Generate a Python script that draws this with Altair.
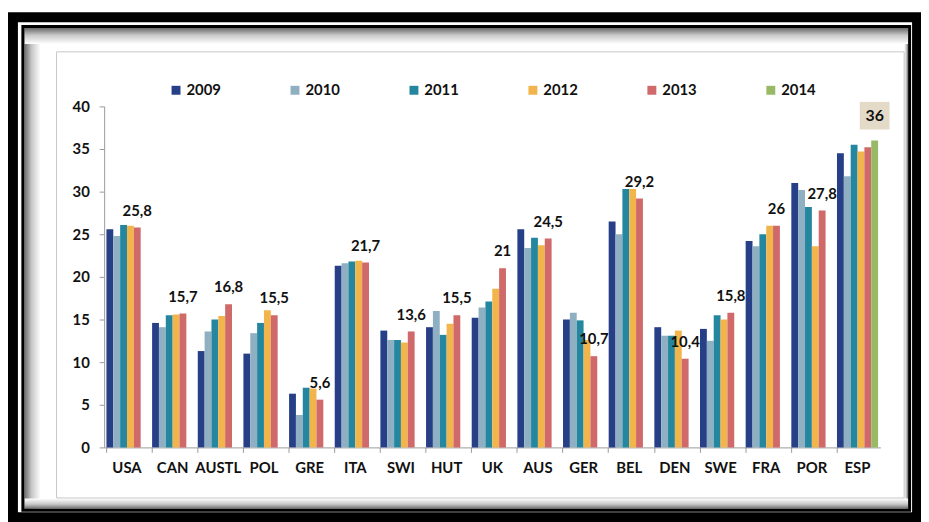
import altair as alt
import pandas as pd

categories = ["USA", "CAN", "AUSTL", "POL", "GRE", "ITA", "SWI", "HUT", "UK",
              "AUS", "GER", "BEL", "DEN", "SWE", "FRA", "POR", "ESP"]
years = ["2009", "2010", "2011", "2012", "2013", "2014"]

v2009 = [25.6, 14.6, 11.3, 11.0, 6.3, 21.3, 13.7, 14.1, 15.2, 25.6, 15.0, 26.5, 14.1, 13.9, 24.2, 31.0, 34.5]
v2010 = [24.8, 14.1, 13.6, 13.4, 3.8, 21.6, 12.6, 16.0, 16.4, 23.4, 15.8, 25.0, 13.1, 12.5, 23.6, 30.2, 31.8]
v2011 = [26.1, 15.5, 15.0, 14.6, 7.0, 21.8, 12.6, 13.2, 17.1, 24.6, 14.9, 30.3, 13.1, 15.5, 25.0, 28.2, 35.5]
v2012 = [26.0, 15.6, 15.4, 16.1, 6.9, 21.9, 12.3, 14.5, 18.6, 23.7, 12.6, 30.3, 13.7, 15.0, 26.0, 23.6, 34.7]
v2013 = [25.8, 15.7, 16.8, 15.5, 5.6, 21.7, 13.6, 15.5, 21.0, 24.5, 10.7, 29.2, 10.4, 15.8, 26.0, 27.8, 35.2]
v2014 = [None] * 16 + [36.0]

label_text = ["25,8", "15,7", "16,8", "15,5", "5,6", "21,7", "13,6", "15,5", "21",
              "24,5", "10,7", "29,2", "10,4", "15,8", "26", "27,8", "36"]
label_value = [25.8, 15.7, 16.8, 15.5, 5.6, 21.7, 13.6, 15.5, 21.0,
               24.5, 10.7, 29.2, 10.4, 15.8, 26.0, 27.8, 36.0]
label_year = ["2013"] * 16 + ["2014"]
label_boxed = [False] * 16 + [True]

colors = ["#263f86", "#8fb0c2", "#25879f", "#f2b54c", "#d0696a", "#98b965"]

rows = []
for yr, vals in zip(years, [v2009, v2010, v2011, v2012, v2013, v2014]):
    for c, v in zip(categories, vals):
        if v is not None:
            rows.append({"cat": c, "year": yr, "value": v})
bars_df = pd.DataFrame(rows)
labels_df = pd.DataFrame({"cat": categories, "year": label_year, "value": label_value,
                          "label": label_text, "boxed": label_boxed})

FONT = "Lato"

x_enc = alt.X("cat:N", sort=categories,
              scale=alt.Scale(paddingInner=0.1, paddingOuter=0.05),
              axis=alt.Axis(title=None, labelAngle=0, bandPosition=0, labelPadding=8))
xoff = alt.XOffset("year:N", scale=alt.Scale(domain=years, paddingInner=0, paddingOuter=0))
y_enc = alt.Y("value:Q", scale=alt.Scale(domain=[0, 40], nice=False),
              axis=alt.Axis(title=None, values=list(range(0, 41, 5)), labelPadding=10))

bars = alt.Chart(bars_df).mark_bar().encode(
    x=x_enc, xOffset=xoff, y=y_enc,
    color=alt.Color("year:N", scale=alt.Scale(domain=years, range=colors),
                    legend=alt.Legend(title=None, orient="none", legendX=65, legendY=-24,
                                      direction="horizontal", symbolType="square",
                                      symbolSize=81, symbolStrokeWidth=0, columnPadding=67,
                                      labelFont=FONT, labelFontSize=15, labelFontWeight="bold",
                                      labelColor="#111111", labelOffset=3, padding=0)),
)

text = alt.Chart(labels_df).transform_filter("!datum.boxed").mark_text(
    font=FONT, fontWeight="bold", fontSize=15, color="#111111", baseline="middle", dy=-17
).encode(x=x_enc, xOffset=xoff, y=y_enc, text="label:N")

box = alt.Chart(labels_df).transform_filter("datum.boxed").mark_point(
    shape="M-1,-0.93L1,-0.93L1,0.93L-1,0.93Z", size=900, filled=True,
    color="#e4dac8", opacity=1, yOffset=-25
).encode(x=x_enc, xOffset=xoff, y=y_enc)

boxtext = alt.Chart(labels_df).transform_filter("datum.boxed").mark_text(
    font=FONT, fontWeight="bold", fontSize=16, color="#111111", baseline="middle", dy=-25
).encode(x=x_enc, xOffset=xoff, y=y_enc, text="label:N")

deco_base = alt.Chart(pd.DataFrame({"d": [0]}))


def frame(x1, y1, x2, y2, **kw):
    return deco_base.mark_rect(**kw).encode(
        x=alt.value(x1), x2=alt.value(x2), y=alt.value(y1), y2=alt.value(y2))


def grad(vertical, dark_first):
    stops = [alt.GradientStop(color="#6a6a6a", offset=0),
             alt.GradientStop(color="#c8c8c8", offset=0.45),
             alt.GradientStop(color="#ffffff", offset=1)]
    if not dark_first:
        stops = [alt.GradientStop(color=s.color, offset=1 - s.offset) for s in reversed(stops)]
    if vertical:
        return alt.Gradient(gradient="linear", stops=stops, x1=0, x2=0, y1=0, y2=1)
    return alt.Gradient(gradient="linear", stops=stops, x1=0, x2=1, y1=0, y2=0)


decos = [
    frame(-92, -90, 820, 414.5, fill="transparent", stroke="#000000", strokeWidth=10),
    frame(-80.5, -79, -64, 406, fill=grad(False, True)),
    frame(807, -79, 811, 406, fill=grad(False, False)),
    frame(-80.5, 395.5, 811, 406, fill=grad(True, False)),
    frame(-80.5, -79, 811, -63, fill=grad(True, True)),
    frame(-82, -80.5, 812.5, 407.5, fill="transparent", stroke="#000000", strokeWidth=3),
    frame(-48, -55, 807, 395, fill="transparent", stroke="#c6c6c6", strokeWidth=1),
]

chart = alt.layer(*decos, bars, text, box, boxtext).properties(
    width=783, height=344,
    autosize=alt.AutoSizeParams(type="none"),
    padding={"left": 97, "top": 97, "right": 41, "bottom": 73},
    background="#ffffff",
).configure_axis(
    labelFont=FONT, labelFontWeight="bold", labelFontSize=15, labelColor="#111111",
    domainColor="#9a9a9a", tickColor="#9a9a9a", tickSize=5, grid=False,
).configure_view(stroke="transparent")

chart.save("out.html", embed_options={"renderer": "svg", "actions": False})
